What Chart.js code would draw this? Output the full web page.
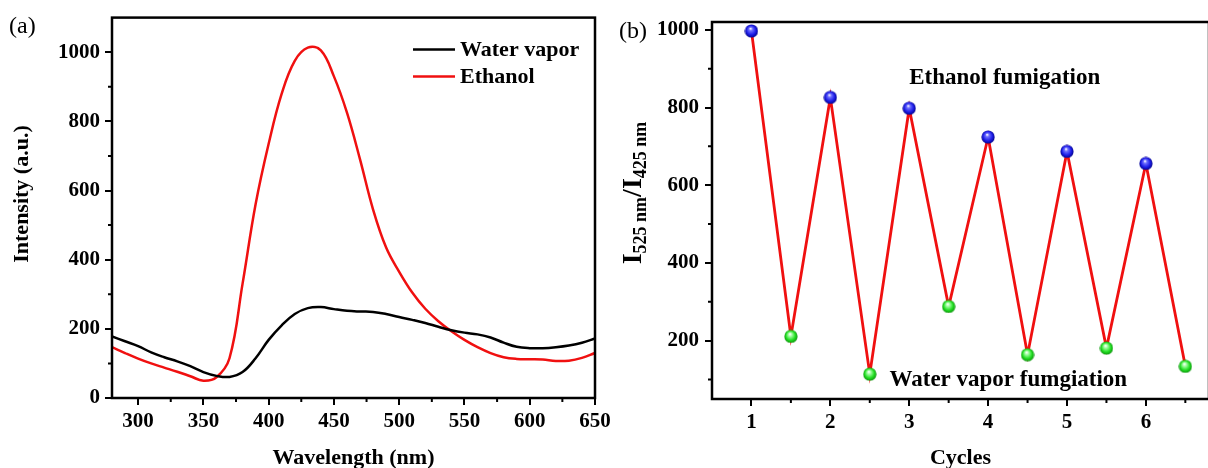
<!DOCTYPE html>
<html>
<head>
<meta charset="utf-8">
<title>Fluorescence response</title>
<script src="https://cdn.jsdelivr.net/npm/chart.js@4.4.0/dist/chart.umd.min.js"></script>
<style>
  html, body { margin: 0; padding: 0; background: #fff; overflow: hidden; }
  body { width: 1208px; height: 468px; position: relative; }
  canvas { position: absolute; top: 0; }
  #spectra { left: 0; }
  #cycles { left: 600px; }
</style>
</head>
<body>
<canvas id="spectra" width="620" height="468"></canvas>
<canvas id="cycles" width="620" height="468"></canvas>
<script>
// emission spectra, sampled every 10 nm
const wavelengths = [280, 290, 300, 310, 320, 330, 340, 350, 360, 370, 380, 390, 400, 410, 420, 430, 440, 450, 460,
  470, 480, 490, 500, 510, 520, 530, 540, 550, 560, 570, 580, 590, 600, 610, 620, 630, 640, 650];
const waterVapor = [178, 164, 150, 132, 118, 106, 92, 75, 64, 61, 75, 115, 168, 210, 243, 260, 263, 257, 252,
  250, 249, 243, 234, 226, 217, 206, 196, 189, 184, 175, 160, 148, 144, 144, 147, 152, 160, 172];
const ethanol = [147, 130, 114, 100, 88, 76, 63, 50, 60, 115, 330, 560, 735, 880, 975, 1013, 1005, 930, 825,
  690, 545, 435, 365, 305, 258, 222, 193, 168, 147, 130, 118, 113, 112, 111, 107, 108, 116, 130];

const wavelengthTicks = [300, 350, 400, 450, 500, 550, 600, 650];
const wavelengthMinor = [325, 375, 425, 475, 525, 575, 625];
const intensityTicks = [0, 200, 400, 600, 800, 1000];
const intensityMinor = [100, 300, 500, 700, 900];

// I525/I425 ratio over alternating ethanol / water vapor exposure
const cycles = [1, 1.5, 2, 2.5, 3, 3.5, 4, 4.5, 5, 5.5, 6, 6.5];
const ratio = [997, 211, 826, 114, 798, 288, 724, 164, 687, 181, 656, 134];

const cycleTicks = [1, 2, 3, 4, 5, 6];
const cycleMinor = [1.5, 2.5, 3.5, 4.5, 5.5, 6.5];
const ratioTicks = [200, 400, 600, 800, 1000];
const ratioMinor = [100, 300, 500, 700, 900];

const FONT = '"Liberation Serif", "Times New Roman", serif';

function toPoints(xs, ys) {
  return xs.map((x, i) => ({ x: x, y: ys[i] }));
}

function axis(min, max, ticks, opts) {
  return {
    type: 'linear',
    min: min,
    max: max,
    afterBuildTicks: scale => { scale.ticks = ticks.map(v => ({ value: v })); },
    afterFit: opts.fit,
    border: { display: false },
    grid: { drawOnChartArea: false, drawTicks: true, tickLength: 7, color: '#000', lineWidth: 2 },
    ticks: {
      color: '#000',
      padding: opts.pad,
      font: { family: FONT, size: 21, weight: 'bold' },
      callback: v => String(v)
    },
    title: opts.title
  };
}

// box around the plot area, short minor ticks, panel tag and rotated y title
const framePlugin = {
  id: 'frame',
  afterDraw(chart, args, opts) {
    const { ctx, chartArea: a, scales } = chart;
    ctx.save();
    ctx.strokeStyle = '#000';
    ctx.lineWidth = 2.5;
    ctx.strokeRect(a.left, a.top, a.right - a.left, a.bottom - a.top);
    ctx.lineWidth = 2;
    ctx.beginPath();
    (opts.x || []).forEach(v => {
      const px = scales.x.getPixelForValue(v);
      ctx.moveTo(px, a.bottom);
      ctx.lineTo(px, a.bottom + 4);
    });
    (opts.y || []).forEach(v => {
      const py = scales.y.getPixelForValue(v);
      ctx.moveTo(a.left, py);
      ctx.lineTo(a.left - 4, py);
    });
    ctx.stroke();
    ctx.fillStyle = '#000';
    if (opts.tag) {
      ctx.font = '24px ' + FONT;
      ctx.textBaseline = 'alphabetic';
      ctx.fillText(opts.tag.text, opts.tag.x, opts.tag.y);
    }
    if (opts.yTitle) {
      ctx.translate(opts.yTitle.x, opts.yTitle.y);
      ctx.rotate(-Math.PI / 2);
      ctx.font = 'bold 22px ' + FONT;
      ctx.textAlign = 'center';
      ctx.textBaseline = 'middle';
      ctx.fillText(opts.yTitle.text, 0, 0);
    }
    ctx.restore();
  }
};

// legend drawn inside the spectra plot
const innerLegend = {
  id: 'innerLegend',
  afterDraw(chart, args, opts) {
    if (!opts.display) return;
    const { ctx, chartArea: a } = chart;
    ctx.save();
    ctx.font = 'bold 22px ' + FONT;
    ctx.textBaseline = 'middle';
    chart.data.datasets.forEach((ds, i) => {
      const y = a.top + opts.top + i * 27;
      const x = a.left + opts.left;
      ctx.strokeStyle = ds.borderColor;
      ctx.lineWidth = 2.5;
      ctx.beginPath();
      ctx.moveTo(x, y);
      ctx.lineTo(x + 42, y);
      ctx.stroke();
      ctx.fillStyle = '#000';
      ctx.fillText(ds.label, x + 47, y + 1);
    });
    ctx.restore();
  }
};

const spectraChart = new Chart(document.getElementById('spectra'), {
  type: 'line',
  data: {
    datasets: [{
      label: 'Water vapor',
      data: toPoints(wavelengths, waterVapor),
      borderColor: '#000000',
      borderWidth: 2.5,
      pointRadius: 0,
      tension: 0.4
    }, {
      label: 'Ethanol',
      data: toPoints(wavelengths, ethanol),
      borderColor: '#f01010',
      borderWidth: 2.5,
      pointRadius: 0,
      tension: 0.4
    }]
  },
  options: {
    responsive: false,
    animation: false,
    layout: { padding: { top: 17, right: 25, bottom: 0, left: 0 } },
    plugins: {
      legend: { display: false },
      tooltip: { enabled: false },
      frame: {
        x: wavelengthMinor,
        y: intensityMinor,
        tag: { text: '(a)', x: 9, y: 33 },
        yTitle: { text: 'Intensity (a.u.)', x: 22, y: 194 }
      },
      innerLegend: { display: true, left: 301, top: 32 }
    },
    scales: {
      x: axis(280, 650, wavelengthTicks, {
        fit: s => { s.height = 70; },
        pad: 4,
        title: { display: true, text: 'Wavelength (nm)', color: '#000', padding: { top: 0, bottom: 0 },
          font: { family: FONT, size: 22, weight: 'bold', lineHeight: 0.9 } }
      }),
      y: axis(0, 1100, intensityTicks, {
        fit: s => { s.width = 112; },
        pad: 5,
        title: { display: false }
      })
    }
  },
  plugins: [framePlugin, innerLegend]
});

// shaded sphere sprites for the markers
function makeBall(light, base, dark) {
  const c = document.createElement('canvas');
  c.width = 14;
  c.height = 14;
  const g = c.getContext('2d');
  const grad = g.createRadialGradient(6, 4.5, 0.3, 7, 7, 7);
  grad.addColorStop(0, '#ffffff');
  grad.addColorStop(0.22, light);
  grad.addColorStop(0.65, base);
  grad.addColorStop(1, dark);
  g.fillStyle = grad;
  g.beginPath();
  g.arc(7, 7, 6.6, 0, Math.PI * 2);
  g.fill();
  return c;
}
const blueBall = makeBall('#7070ff', '#1c1ce8', '#000080');
const greenBall = makeBall('#a8ffa8', '#22e022', '#0b8a0b');

// y title with subscripts and the two text notes
const ratioLabels = {
  id: 'ratioLabels',
  afterDraw(chart, args, opts) {
    const { ctx, scales } = chart;
    ctx.save();
    ctx.fillStyle = '#000';
    ctx.textBaseline = 'middle';
    ctx.font = 'bold 23px ' + FONT;
    opts.notes.forEach(n => {
      ctx.fillText(n.text, scales.x.getPixelForValue(n.x), scales.y.getPixelForValue(n.y));
    });

    const parts = [['I', 0], ['525 nm', 1], ['/I', 0], ['425 nm', 1]];
    const big = 'bold 28px ' + FONT;
    const small = 'bold 18px ' + FONT;
    let total = 0;
    parts.forEach(p => {
      ctx.font = p[1] ? small : big;
      total += ctx.measureText(p[0]).width;
    });
    ctx.translate(opts.titleX, opts.titleY + total / 2);
    ctx.rotate(-Math.PI / 2);
    ctx.textBaseline = 'alphabetic';
    let pos = 0;
    parts.forEach(p => {
      ctx.font = p[1] ? small : big;
      ctx.fillText(p[0], pos, p[1] ? 5 : 0);
      pos += ctx.measureText(p[0]).width;
    });
    ctx.restore();
  }
};

const cycleChart = new Chart(document.getElementById('cycles'), {
  type: 'line',
  data: {
    datasets: [{
      label: 'I525/I425',
      data: toPoints(cycles, ratio),
      borderColor: '#f01010',
      borderWidth: 2.8,
      tension: 0,
      pointStyle: ctx => (ctx.dataIndex % 2 === 0 ? blueBall : greenBall),
      pointRadius: 7
    }]
  },
  options: {
    responsive: false,
    animation: false,
    layout: { padding: { top: 22, right: 11, bottom: 0, left: 0 } },
    plugins: {
      legend: { display: false },
      tooltip: { enabled: false },
      frame: { x: cycleMinor, y: ratioMinor, tag: { text: '(b)', x: 19, y: 38 } },
      ratioLabels: {
        titleX: 41,
        titleY: 193,
        notes: [
          { text: 'Ethanol fumigation', x: 3.0, y: 877 },
          { text: 'Water vapor fumgiation', x: 2.75, y: 100 }
        ]
      }
    },
    scales: {
      x: axis(0.5, 6.8, cycleTicks, {
        fit: s => { s.height = 69; },
        pad: 4,
        title: { display: true, text: 'Cycles', color: '#000', padding: { top: 0, bottom: 0 },
          font: { family: FONT, size: 22, weight: 'bold', lineHeight: 0.9 } }
      }),
      y: axis(50, 1020, ratioTicks, {
        fit: s => { s.width = 112; },
        pad: 6,
        title: { display: false }
      })
    }
  },
  plugins: [framePlugin, ratioLabels]
});
</script>
</body>
</html>
